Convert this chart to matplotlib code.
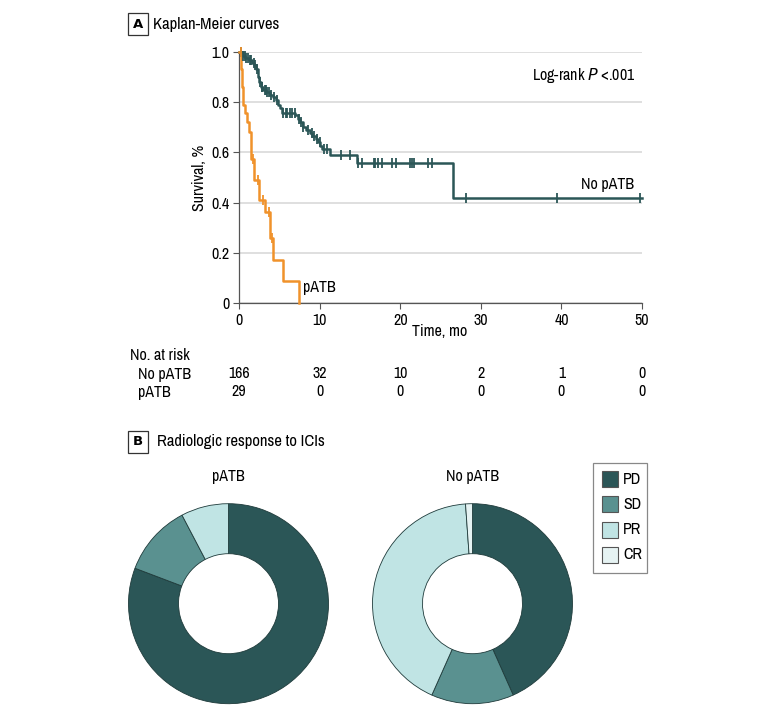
import numpy as np
import matplotlib
matplotlib.use("Agg")
import matplotlib.pyplot as plt
from matplotlib.patches import Rectangle
from matplotlib import font_manager

# ---- font choice: prefer a narrow / condensed face ----
ttf = font_manager.fontManager.ttflist
narrow = sorted({f.name for f in ttf if ('Narrow' in f.name or 'Condensed' in f.name)})
dv_cond = any(f.name == 'DejaVu Sans' and f.stretch in ('condensed', 'semi-condensed', 600, 500) for f in ttf)
STRETCH = 'normal'
if narrow:
    FAM = [narrow[0], 'DejaVu Sans']
elif dv_cond:
    FAM = ['DejaVu Sans']
    STRETCH = 'condensed'
else:
    FAM = ['Roboto', 'DejaVu Sans']
plt.rcParams['font.family'] = FAM
plt.rcParams['font.stretch'] = STRETCH

# ---------------- data ----------------
green_t = [0, 0.5, 0.8, 1.2, 1.6, 1.9, 2.1, 2.3, 2.4, 2.5, 2.7, 3.0, 3.4, 3.8, 4.2, 4.6, 4.9, 5.1, 5.3,
           7.0, 7.3, 7.6, 7.9, 8.3, 8.8, 9.1, 9.5, 9.8, 10.1, 10.3, 11.3, 14.6, 26.5, 50]
green_s = [1.0, 0.985, 0.975, 0.967, 0.957, 0.947, 0.933, 0.92, 0.90, 0.88, 0.86, 0.85, 0.84, 0.83, 0.82,
           0.81, 0.79, 0.775, 0.758, 0.748, 0.735, 0.72, 0.70, 0.688, 0.677, 0.665, 0.655, 0.64, 0.625,
           0.613, 0.588, 0.558, 0.42, 0.42]
green_censor = [0.3, 0.5, 0.7, 0.9, 1.1, 1.4, 1.5, 1.8, 2.0, 2.2, 2.6, 2.8, 2.9, 3.2, 3.3, 3.5, 3.7, 4.0,
                4.4, 4.7, 5.5, 5.8, 6.0, 6.3, 6.6, 6.9, 7.4, 7.7, 8.0, 8.5, 9.0, 9.3, 9.7, 10.0, 10.5,
                10.9, 12.6, 13.8, 14.8, 15.3, 16.7, 16.9, 17.3, 17.7, 19.0, 19.5, 21.2, 21.5, 21.7, 23.4,
                24.0, 28.2, 39.4, 49.8]

orange_t = [0, 0.25, 0.3, 0.35, 0.4, 0.45, 0.5, 0.75, 1.0, 1.2, 1.5, 1.9, 2.5, 3.2, 3.85, 4.25, 5.5, 7.44]
orange_s = [1.0, 0.966, 0.931, 0.897, 0.862, 0.828, 0.79, 0.755, 0.72, 0.68, 0.575, 0.49, 0.41, 0.364,
            0.26, 0.171, 0.087, 0.0]
orange_censor = [0.2, 1.74, 2.4, 3.0, 3.7, 4.13]

risk_times = [0, 10, 20, 30, 40, 50]
risk_no_patb = [166, 32, 10, 2, 1, 0]
risk_patb = [29, 0, 0, 0, 0, 0]

resp_labels = ['PD', 'SD', 'PR', 'CR']
resp_patb = [21, 3, 2, 0]
resp_no_patb = [39, 12, 38, 1]

GREEN = '#2b5657'
ORANGE = '#f0922b'
resp_colors = ['#2b5657', '#5a9190', '#c0e4e4', '#e6f3f3']

W, H = 780, 721
def fx(p): return p / W
def fy(p): return 1 - p / H

fig = plt.figure(figsize=(7.8, 7.21), dpi=100)
FS = 11.5

# ---------------- panel A ----------------
fig.text(fx(138), fy(24), 'A', fontsize=9.5, fontweight='bold', family='DejaVu Sans',
         ha='center', va='center',
         bbox=dict(boxstyle='square,pad=0.35', fc='white', ec='#333', lw=0.9))
fig.text(fx(153), fy(24), 'Kaplan-Meier curves', fontsize=12, ha='left', va='center')

ax = fig.add_axes([fx(239), fy(303), (642 - 239) / W, (303 - 52) / H])
ax.set_xlim(0, 50)
ax.set_ylim(0, 1)
ax.set_axisbelow(True)
ax.yaxis.grid(True, color='#d9d9d9', lw=1.2)
for s in ['top', 'right']:
    ax.spines[s].set_visible(False)
for s in ['left', 'bottom']:
    ax.spines[s].set_color('#555')
    ax.spines[s].set_linewidth(0.9)
ax.set_xticks(risk_times)
ax.set_yticks([0, 0.2, 0.4, 0.6, 0.8, 1.0])
ax.set_yticklabels(['0', '0.2', '0.4', '0.6', '0.8', '1.0'])
ax.tick_params(direction='out', length=4, color='#555', labelsize=FS, pad=3)

def km(t, s, cens, color):
    ax.step(t, s, where='post', color=color, lw=1.8, clip_on=False, zorder=3)
    t = np.asarray(t); s = np.asarray(s)
    idx = np.searchsorted(t, cens, side='right') - 1
    ax.plot(cens, s[idx], ls='none', marker='|', ms=7, mew=1.3, color=color, clip_on=False, zorder=4)

km(green_t, green_s, green_censor, GREEN)
km(orange_t, orange_s, orange_censor, ORANGE)

ax.text(0.985, 0.905, r'Log-rank $\it{P}$ <.001', transform=ax.transAxes, ha='right', va='center', fontsize=FS)
fig.text(fx(608), fy(185), 'No pATB', fontsize=FS, ha='center', va='center')
fig.text(fx(303), fy(287), 'pATB', fontsize=FS, ha='left', va='center')
fig.text(fx(200), fy(178), 'Survival, %', rotation=90, fontsize=FS, ha='center', va='center')
fig.text(fx(440), fy(331), 'Time, mo', fontsize=FS, ha='center', va='center')

# risk table
fig.text(fx(130), fy(356), 'No. at risk', fontsize=FS, ha='left', va='center')
fig.text(fx(138), fy(374), 'No pATB', fontsize=FS, ha='left', va='center')
fig.text(fx(138), fy(392), 'pATB', fontsize=FS, ha='left', va='center')
for t, a, b in zip(risk_times, risk_no_patb, risk_patb):
    xf = ax.transData.transform((t, 0))[0]
    xf = fig.transFigure.inverted().transform((xf, 0))[0]
    fig.text(xf, fy(374), str(a), fontsize=FS, ha='center', va='center')
    fig.text(xf, fy(392), str(b), fontsize=FS, ha='center', va='center')

# ---------------- panel B ----------------
fig.text(fx(138), fy(442), 'B', fontsize=9.5, fontweight='bold', family='DejaVu Sans',
         ha='center', va='center',
         bbox=dict(boxstyle='square,pad=0.35', fc='white', ec='#333', lw=0.9))
fig.text(fx(157), fy(442), 'Radiologic response to ICIs', fontsize=12, ha='left', va='center')

def donut(cx, cy, vals, title):
    r = 100
    pa = fig.add_axes([fx(cx - r), fy(cy + r), 2 * r / W, 2 * r / H])
    v = [x for x in vals if x > 0]
    c = [col for x, col in zip(vals, resp_colors) if x > 0]
    pa.pie(v, colors=c, startangle=90, counterclock=False, radius=1,
           wedgeprops=dict(width=0.5, edgecolor='#1e3a3a', linewidth=0.6))
    pa.set_xlim(-1, 1); pa.set_ylim(-1, 1)
    pa.set_aspect('auto')
    pa.axis('off')
    fig.text(fx(cx), fy(476), title, fontsize=FS, ha='center', va='center')

donut(228.5, 603.7, resp_patb, 'pATB')
donut(472.5, 603.7, resp_no_patb, 'No pATB')

# legend box drawn in figure pixels
tr = fig.transFigure
fig.patches.append(Rectangle((fx(593), fy(573)), 54 / W, 110 / H, transform=tr,
                             fc='white', ec='#888', lw=0.9))
for i, (lab, col) in enumerate(zip(resp_labels, resp_colors)):
    yc = 479 + i * 25.3
    fig.patches.append(Rectangle((fx(602), fy(yc + 8)), 16 / W, 16 / H, transform=tr,
                                 fc=col, ec='#555', lw=0.8))
    fig.text(fx(623), fy(yc), lab, fontsize=FS, ha='left', va='center')

fig.savefig('out.png', dpi=100, facecolor='white')
